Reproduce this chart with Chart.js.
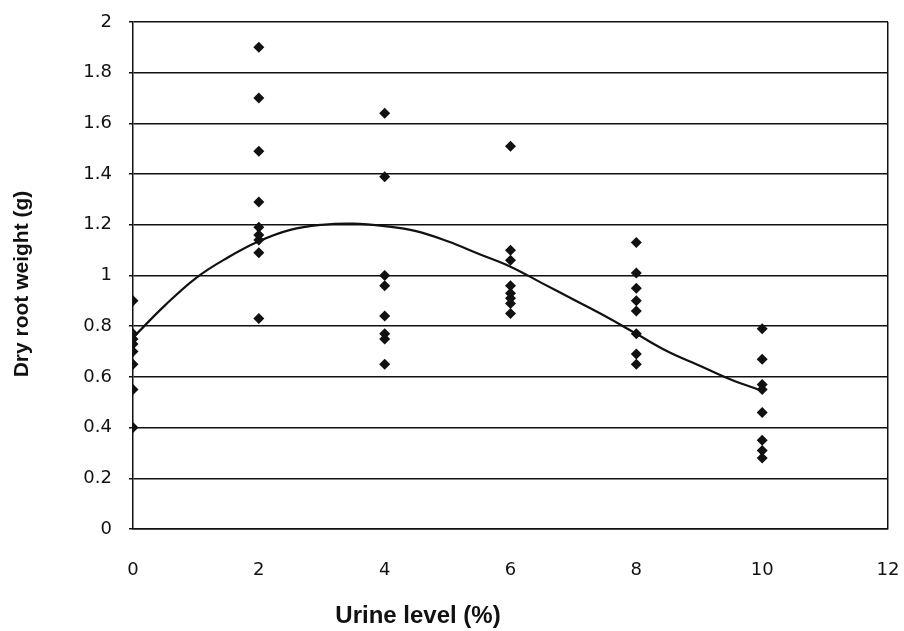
<!DOCTYPE html>
<html>
<head>
<meta charset="utf-8">
<script src="https://cdn.jsdelivr.net/npm/chart.js@4/dist/chart.umd.min.js"></script>
<style>
  html, body { margin: 0; padding: 0; background: #fff; }
  #wrap { width: 904px; height: 631px; }
</style>
</head>
<body>
<div id="wrap"><canvas id="root_chart" width="904" height="631"></canvas></div>
<script>
// urine levels (%) and the measured dry root weights (g) at each level
var urineLevels = [0, 2, 4, 6, 8, 10];
var weightsAt0 = [0.90, 0.77, 0.75, 0.73, 0.70, 0.65, 0.55, 0.40];
var weightsAt2 = [1.90, 1.70, 1.49, 1.29, 1.19, 1.16, 1.14, 1.09, 0.83];
var weightsAt4 = [1.64, 1.39, 1.00, 0.96, 0.84, 0.77, 0.75, 0.65];
var weightsAt6 = [1.51, 1.10, 1.06, 0.96, 0.93, 0.91, 0.89, 0.85];
var weightsAt8 = [1.13, 1.01, 0.95, 0.90, 0.86, 0.77, 0.69, 0.65];
var weightsAt10 = [0.79, 0.67, 0.57, 0.55, 0.46, 0.35, 0.31, 0.28];

// fitted trend line
var trendX = [0, 0.5, 1, 1.5, 2, 2.5, 3, 3.5, 4, 4.5, 5, 5.5, 6, 6.5, 7, 7.5, 8, 8.5, 9, 9.5, 10];
var trendY = [0.755, 0.88, 0.99, 1.07, 1.135, 1.18, 1.20, 1.205, 1.195, 1.175, 1.135, 1.085, 1.035, 0.97, 0.905, 0.84, 0.77, 0.70, 0.645, 0.59, 0.545];

var xTickLabels = ['0', '2', '4', '6', '8', '10', '12'];
var yTickLabels = ['0', '0.2', '0.4', '0.6', '0.8', '1', '1.2', '1.4', '1.6', '1.8', '2'];
var xTitle = 'Urine level (%)';
var yTitle = 'Dry root weight (g)';

var weightsByLevel = [weightsAt0, weightsAt2, weightsAt4, weightsAt6, weightsAt8, weightsAt10];
var points = [];
urineLevels.forEach(function (lvl, i) {
  weightsByLevel[i].forEach(function (w) { points.push({ x: lvl, y: w }); });
});
var trend = trendX.map(function (x, i) { return { x: x, y: trendY[i] }; });

var ink = '#111';
var tickFont = { family: '"DejaVu Sans", sans-serif', size: 18 };

// axis titles sit where the original put them, not centred on the plot
var axisTitles = {
  id: 'axisTitles',
  afterDraw: function (chart) {
    var ctx = chart.ctx;
    ctx.save();
    ctx.fillStyle = ink;
    ctx.textAlign = 'center';
    ctx.textBaseline = 'middle';
    ctx.font = 'bold 24px "Liberation Sans", Arial, sans-serif';
    ctx.fillText(xTitle, 418, 616);
    ctx.translate(22, 284);
    ctx.rotate(-Math.PI / 2);
    ctx.font = 'bold 21px "Liberation Sans", Arial, sans-serif';
    ctx.fillText(yTitle, 0, 0);
    ctx.restore();
  }
};

new Chart(document.getElementById('root_chart').getContext('2d'), {
  type: 'scatter',
  data: {
    datasets: [{
      label: 'Dry root weight',
      data: points,
      pointStyle: 'rectRot',
      pointRadius: 5.5,
      pointBackgroundColor: ink,
      pointBorderColor: ink,
      pointBorderWidth: 0,
      order: 1
    }, {
      label: 'Trend',
      type: 'line',
      data: trend,
      showLine: true,
      borderColor: ink,
      borderWidth: 2.2,
      pointRadius: 0,
      tension: 0.4,
      fill: false,
      order: 2
    }]
  },
  options: {
    responsive: false,
    animation: false,
    layout: { padding: { left: 0, right: 16, top: 22, bottom: 0 } },
    plugins: { legend: { display: false }, tooltip: { enabled: false } },
    scales: {
      x: {
        type: 'linear',
        min: 0,
        max: 12,
        afterFit: function (s) { s.height = 102; s.paddingLeft = 0; s.paddingRight = 0; },
        afterBuildTicks: function (s) { s.ticks = xTickLabels.map(function (t) { return { value: +t }; }); },
        ticks: {
          padding: 31,
          color: ink,
          font: tickFont,
          callback: function (v, i) { return xTickLabels[i]; }
        },
        grid: {
          drawTicks: false,
          lineWidth: 1.5,
          color: function (c) { return c.tick && c.tick.value === 12 ? ink : 'rgba(0,0,0,0)'; }
        },
        border: { color: ink, width: 1.5 }
      },
      y: {
        min: 0,
        max: 2,
        afterFit: function (s) { s.width = 133; s.paddingTop = 0; s.paddingBottom = 0; },
        afterBuildTicks: function (s) { s.ticks = yTickLabels.map(function (t) { return { value: +t }; }); },
        ticks: {
          padding: 17,
          color: ink,
          font: tickFont,
          callback: function (v, i) { return yTickLabels[i]; }
        },
        grid: { color: ink, lineWidth: 1.5, tickLength: 4, tickColor: ink },
        border: { color: ink, width: 1.5 }
      }
    }
  },
  plugins: [axisTitles]
});
</script>
</body>
</html>
